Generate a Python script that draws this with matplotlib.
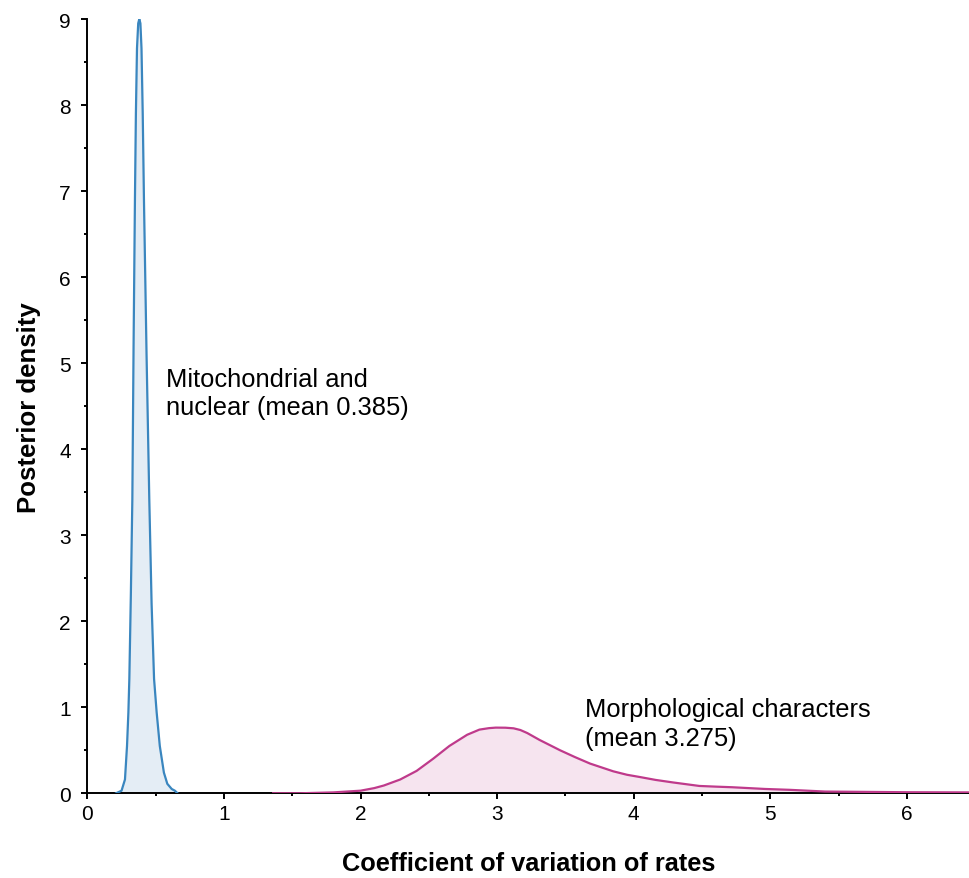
import matplotlib
matplotlib.use("Agg")
import matplotlib.pyplot as plt
from matplotlib.ticker import MultipleLocator

plt.rcParams['font.family'] = ['Liberation Sans', 'DejaVu Sans']

# Mitochondrial and nuclear posterior density
mito_x = [0.21, 0.25, 0.275, 0.29, 0.30, 0.307, 0.318, 0.329, 0.338, 0.348, 0.355, 0.363,
          0.372, 0.38, 0.388, 0.396, 0.405, 0.414, 0.433, 0.453, 0.47, 0.488, 0.507, 0.53,
          0.56, 0.585, 0.617, 0.64, 0.66]
mito_y = [0.0, 0.03, 0.16, 0.55, 0.94, 1.33, 2.3, 3.42, 5.2, 6.9, 7.9, 8.66,
          8.95, 9.0, 8.95, 8.66, 7.9, 6.9, 5.1, 3.42, 2.2, 1.33, 0.94, 0.55,
          0.24, 0.11, 0.05, 0.03, 0.0]

# Morphological characters posterior density
morph_x = [1.36, 1.56, 1.80, 2.0, 2.1, 2.17, 2.29, 2.41, 2.53, 2.65, 2.78, 2.87, 2.94, 2.99,
           3.06, 3.12, 3.17, 3.22, 3.31, 3.46, 3.57, 3.68, 3.85, 3.95, 4.04, 4.16, 4.29, 4.48,
           4.6, 4.72, 4.96, 5.14, 5.40, 6.0, 6.46]
morph_y = [0.0, 0.0, 0.01, 0.03, 0.06, 0.09, 0.16, 0.26, 0.40, 0.55, 0.68, 0.74, 0.757, 0.763,
           0.762, 0.755, 0.735, 0.70, 0.62, 0.50, 0.42, 0.345, 0.255, 0.215, 0.19, 0.155, 0.125,
           0.085, 0.077, 0.07, 0.05, 0.04, 0.02, 0.012, 0.01]

mito_label = "Mitochondrial and\nnuclear (mean 0.385)"
morph_label = "Morphological characters\n(mean 3.275)"
xlabel = "Coefficient of variation of rates"
ylabel = "Posterior density"

blue = "#3a86bf"
blue_fill = "#e4edf5"
pink = "#bf3a8b"
pink_fill = "#f6e4ef"

fig = plt.figure(figsize=(9.69, 8.79), dpi=100)
ax = fig.add_axes([0.0902, 0.0964, 0.9098, 0.8808])

ax.fill_between(mito_x, mito_y, 0, color=blue_fill, lw=0, zorder=1)
ax.plot(mito_x, mito_y, color=blue, lw=1.6, zorder=3, solid_joinstyle='round')
ax.fill_between(morph_x, morph_y, 0, color=pink_fill, lw=0, zorder=1)
ax.plot(morph_x, morph_y, color=pink, lw=1.6, zorder=3, solid_joinstyle='round')

ax.set_xlim(0, 6.454)
ax.set_ylim(0, 9)

for s in ['top', 'right']:
    ax.spines[s].set_visible(False)
for s in ['left', 'bottom']:
    ax.spines[s].set_linewidth(1.4)
    ax.spines[s].set_zorder(2)

ax.xaxis.set_major_locator(MultipleLocator(1))
ax.xaxis.set_minor_locator(MultipleLocator(0.5))
ax.yaxis.set_major_locator(MultipleLocator(1))
ax.yaxis.set_minor_locator(MultipleLocator(0.5))
ax.tick_params(axis='both', which='major', length=4, width=1.4, labelsize=15)
ax.tick_params(axis='both', which='minor', length=2.5, width=1.4)
ax.tick_params(axis='x', which='major', pad=4)
ax.tick_params(axis='y', which='major', pad=8)

ax.set_xlabel(xlabel, fontsize=18.3, fontweight='bold', labelpad=20)
ax.set_ylabel(ylabel, fontsize=18.5, fontweight='bold', labelpad=13)

ax.text(0.575, 4.96, mito_label, fontsize=18.4, va='top', ha='left', linespacing=1.25)
ax.text(3.643, 1.12, morph_label, fontsize=18.4, va='top', ha='left', linespacing=1.25)

fig.savefig("out.png", dpi=100)
